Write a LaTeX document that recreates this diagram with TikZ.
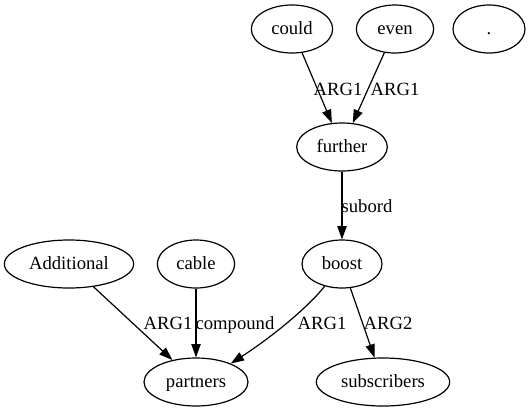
\documentclass[tikz,border=0pt]{standalone}
\usepackage{fontspec}
\setmainfont{Liberation Serif}
\usetikzlibrary{shapes.geometric,arrows.meta}
\begin{document}
\begin{tikzpicture}[x=0.75pt,y=-0.75pt,
  ell/.style={draw,ellipse,line width=0.9pt,inner sep=0pt,minimum height=36pt,
    font=\fontsize{14}{16}\selectfont,text height=10.5pt,text depth=3pt},
  lbl/.style={anchor=base,inner sep=0pt,font=\fontsize{14}{16}\selectfont},
  edge/.style={draw,line width=0.9pt,-{Triangle[length=10pt,width=7pt]}}]
\useasboundingbox (0,0) rectangle (531,411);
\node[ell,minimum width=61pt] (could) at (292,29) {could};
\node[ell,minimum width=58pt] (even) at (395,29) {even};
\node[ell,minimum width=54pt] (dot) at (489,29) {.};
\node[ell,minimum width=68pt] (further) at (342,147) {further};
\node[ell,minimum width=60pt] (boost) at (342,264) {boost};
\node[ell,minimum width=97pt] (additional) at (69,264) {Additional};
\node[ell,minimum width=58pt] (cable) at (196,264) {cable};
\node[ell,minimum width=78pt] (partners) at (196,382) {partners};
\node[ell,minimum width=100pt] (subscribers) at (383,382) {subscribers};
\path[edge] (could) -- (further);
\path[edge] (even) -- (further);
\path[edge] (further) -- (boost);
\path[edge] (additional) -- (partners);
\path[edge] (cable) -- (partners);
\path[edge] (boost.-128) .. controls (310,305) and (275,335) .. (partners.28);
\path[edge] (boost) -- (subscribers);
\node[lbl] (l1) at (338,95) {ARG1};
\node[lbl] (l2) at (395,95) {ARG1};
\node[lbl] (l3) at (367,212) {subord};
\node[lbl] (l4) at (168,329) {ARG1};
\node[lbl] (l5) at (235,329) {compound};
\node[lbl] (l6) at (322,329) {ARG1};
\node[lbl] (l7) at (388,329) {ARG2};
\end{tikzpicture}
\end{document}
